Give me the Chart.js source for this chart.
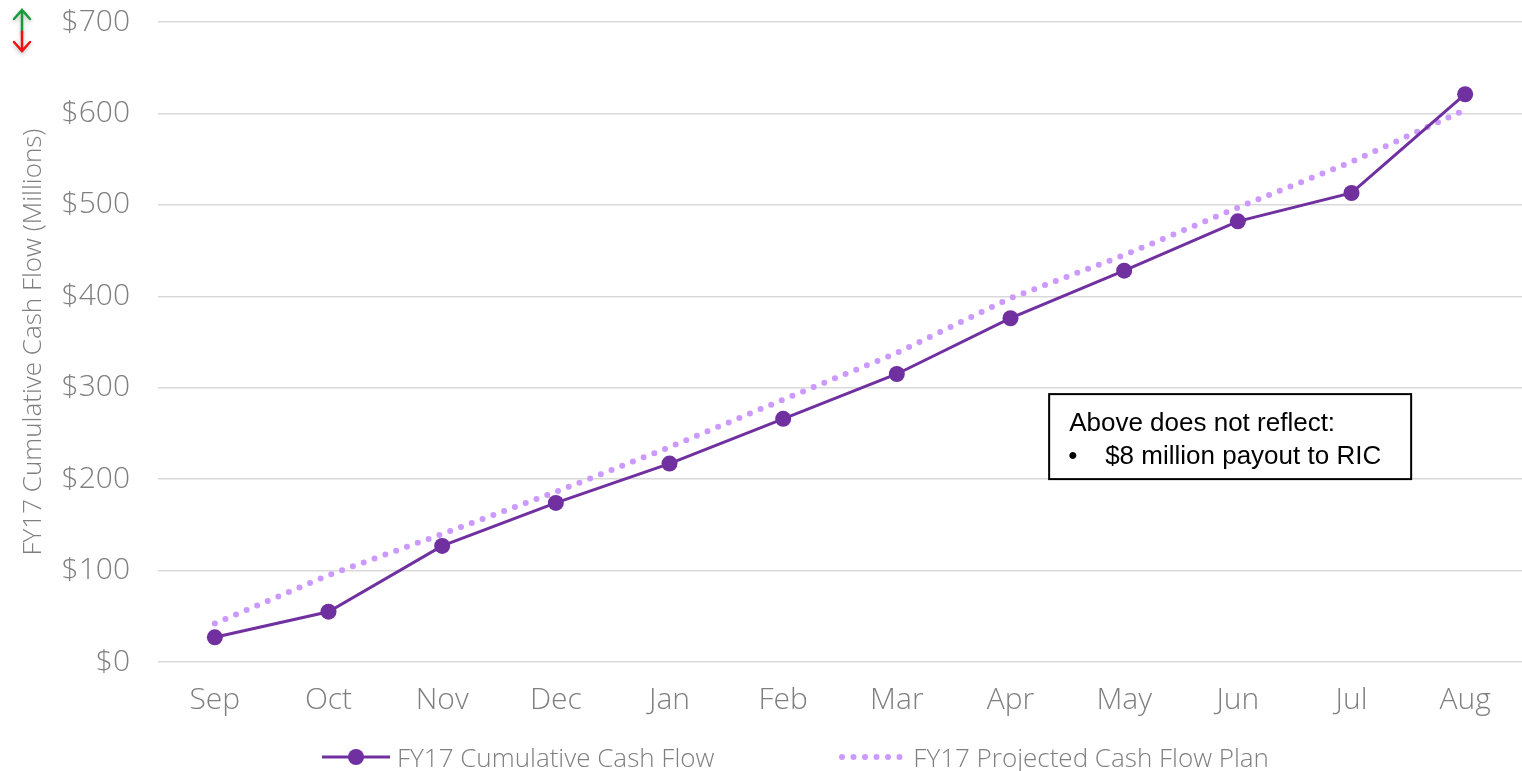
<!DOCTYPE html>
<html>
<head>
<meta charset="utf-8">
<script src="https://cdn.jsdelivr.net/npm/chart.js@4/dist/chart.umd.min.js"></script>
<style>
  html, body { margin: 0; padding: 0; background: #fff; }
  #wrap { width: 1522px; height: 771px; position: relative; overflow: hidden; }
  #legend { position: absolute; left: 322px; top: 741px; height: 32px; display: flex; align-items: center;
            font-family: 'Open Sans', 'DejaVu Sans', sans-serif; font-size: 26px; font-weight: 300; color: #7f7f7f; white-space: nowrap; }
  #legend .item { display: flex; align-items: center; margin-right: 124px; }
  #legend canvas { margin-right: 7px; }
</style>
</head>
<body>
<div id="wrap"><canvas id="cashChart"></canvas><div id="legend"></div></div>
<script>
// datos (millones de $)
const months = ["Sep", "Oct", "Nov", "Dec", "Jan", "Feb", "Mar", "Apr", "May", "Jun", "Jul", "Aug"];
const cumulative = [27, 55, 127, 174, 217, 266, 315, 376, 428, 482, 513, 621];
const projected = [42, 95, 140, 186, 235, 287, 338, 398, 445, 497, 547, 604];
const yTicks = [0, 100, 200, 300, 400, 500, 600, 700];
const noteLines = ["Above does not reflect:", "$8 million payout to RIC"];

const purple = "#7030a0";
const lilac = "#cc99ff";
const grey = "#7f7f7f";
const font = "'Open Sans', 'DejaVu Sans', sans-serif";

// símbolos de la leyenda
function legendSymbol(dotted) {
    const c = document.createElement("canvas");
    c.width = 68; c.height = 20;
    const g = c.getContext("2d");
    g.lineCap = "round";
    if (dotted) {
        g.strokeStyle = lilac;
        g.lineWidth = 6;
        g.setLineDash([0, 11.5]);
        g.beginPath(); g.moveTo(4, 10); g.lineTo(66, 10); g.stroke();
    } else {
        g.strokeStyle = purple;
        g.lineWidth = 3;
        g.lineCap = "butt";
        g.beginPath(); g.moveTo(0, 10); g.lineTo(68, 10); g.stroke();
        g.fillStyle = purple;
        g.beginPath(); g.arc(34, 10, 8, 0, Math.PI * 2); g.fill();
    }
    return c;
}

const extras = {
    id: "extras",
    afterDraw(chart) {
        const ctx = chart.ctx;
        // flechas arriba/abajo
        ctx.save();
        ctx.shadowColor = "rgba(0,0,0,0.25)";
        ctx.shadowBlur = 4;
        ctx.shadowOffsetY = 2;
        ctx.lineWidth = 2.5;
        ctx.lineCap = "round";
        ctx.strokeStyle = "#1a9a3c";
        ctx.beginPath();
        ctx.moveTo(22, 10); ctx.lineTo(22, 32);
        ctx.moveTo(14, 19); ctx.lineTo(22, 10); ctx.lineTo(30, 19);
        ctx.stroke();
        ctx.strokeStyle = "#ee1111";
        ctx.beginPath();
        ctx.moveTo(22, 32); ctx.lineTo(22, 51);
        ctx.moveTo(14, 42); ctx.lineTo(22, 51); ctx.lineTo(30, 42);
        ctx.stroke();
        ctx.restore();

        // cuadro de nota
        const x = chart.scales.x, y = chart.scales.y;
        const left = x.getPixelForValue(7.34), top = y.getPixelForValue(293);
        const w = 362, h = 85;
        ctx.save();
        ctx.fillStyle = "#fff";
        ctx.fillRect(left, top, w, h);
        ctx.strokeStyle = "#000";
        ctx.lineWidth = 2;
        ctx.strokeRect(left, top, w, h);
        ctx.fillStyle = "#000";
        ctx.font = "26px 'Liberation Sans', Arial, sans-serif";
        ctx.textBaseline = "alphabetic";
        ctx.fillText(noteLines[0], left + 20, top + 37);
        ctx.fillText("\u2022", left + 19, top + 70);
        ctx.fillText(noteLines[1], left + 56, top + 70);
        ctx.restore();
    }
};

const chart = new Chart(document.getElementById("cashChart"), {
    type: "line",
    data: {
        labels: months,
        datasets: [
            {
                label: "FY17 Cumulative Cash Flow",
                data: cumulative,
                borderColor: purple,
                backgroundColor: purple,
                borderWidth: 3,
                pointRadius: 8,
                pointHoverRadius: 8,
                pointBorderWidth: 0,
                tension: 0,
                order: 1,
            },
            {
                label: "FY17 Projected Cash Flow Plan",
                data: projected,
                borderColor: lilac,
                backgroundColor: lilac,
                borderWidth: 6,
                borderDash: [0, 11.5],
                borderCapStyle: "round",
                pointRadius: 0,
                tension: 0,
                order: 2,
            },
        ],
    },
    options: {
        responsive: true,
        maintainAspectRatio: false,
        animation: false,
        layout: { autoPadding: false, padding: { top: 22, left: 18, right: -4, bottom: 53 } },
        plugins: {
            tooltip: { enabled: false },
            legend: { display: false },
        },
        scales: {
            x: {
                offset: true,
                afterFit(axis) { axis.height = 56; axis.paddingLeft = 0; axis.paddingRight = 0; },
                grid: { display: false, drawTicks: false },
                border: { display: false },
                ticks: { color: grey, padding: 20, maxRotation: 0, font: { family: font, size: 30, weight: "300" } },
            },
            y: {
                min: 0,
                max: 700,
                afterBuildTicks(axis) { axis.ticks = yTicks.map(v => ({ value: v })); },
                afterFit(axis) { axis.paddingTop = 0; axis.paddingBottom = 0; axis.width = 140; },
                grid: { color: "#d9d9d9", lineWidth: 1.5, drawTicks: false },
                border: { display: false },
                ticks: {
                    color: grey,
                    padding: 28,
                    font: { family: font, size: 30, weight: "300" },
                    callback: v => "$" + v,
                },
                title: {
                    display: true,
                    text: "FY17 Cumulative Cash Flow (Millions)",
                    color: grey,
                    padding: { top: 0, bottom: 0 },
                    font: { family: font, size: 26, weight: "300" },
                },
            },
        },
    },
    plugins: [extras],
});

// leyenda en HTML
const legendEl = document.getElementById("legend");
chart.data.datasets.forEach((ds, i) => {
    const item = document.createElement("div");
    item.className = "item";
    item.appendChild(legendSymbol(i === 1));
    const span = document.createElement("span");
    span.textContent = ds.label;
    item.appendChild(span);
    legendEl.appendChild(item);
});
</script>
</body>
</html>
